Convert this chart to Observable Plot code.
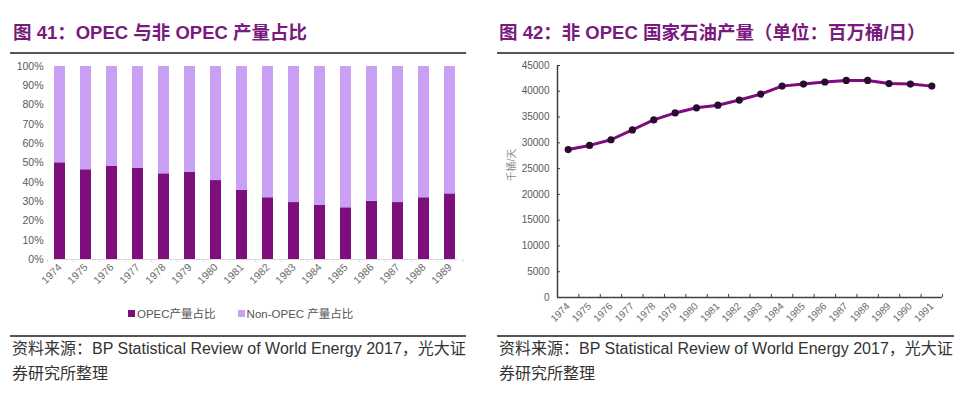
<!DOCTYPE html>
<html>
<head>
<meta charset="utf-8">
<script src="https://cdn.jsdelivr.net/npm/d3@7"></script>
<script src="https://cdn.jsdelivr.net/npm/@observablehq/plot@0.6"></script>
<style>
  html, body { margin: 0; padding: 0; background: #fff; }
  body { width: 978px; height: 398px; position: relative; overflow: hidden;
         font-family: "Liberation Sans", Arial, "Noto Sans CJK SC", sans-serif; }
  .abs { position: absolute; }
  .title { font-size: 18.5px; font-weight: bold; color: #7a1a7e; white-space: nowrap; line-height: 22px; }
  .rule { height: 0; border-top: 2px solid #555; }
  .caption { font-size: 16px; color: #333; line-height: 25px; white-space: nowrap; }
  .legend { font-size: 11.5px; color: #555; white-space: nowrap; }
  .sw { display: inline-block; width: 7px; height: 7px; margin-right: 2px; vertical-align: 1px; }
</style>
</head>
<body>
<script>
// ---------- Data ----------
const years41 = [1974,1975,1976,1977,1978,1979,1980,1981,1982,1983,1984,1985,1986,1987,1988,1989];
const opecShare = [0.501,0.465,0.484,0.473,0.444,0.451,0.409,0.359,0.320,0.295,0.280,0.268,0.301,0.295,0.320,0.340];
const seriesNames = ["OPEC产量占比", "Non-OPEC 产量占比"];
const pctTicks = [0,0.1,0.2,0.3,0.4,0.5,0.6,0.7,0.8,0.9,1.0];

const years42 = [1974,1975,1976,1977,1978,1979,1980,1981,1982,1983,1984,1985,1986,1987,1988,1989,1990,1991];
const nonOpecOutput = [28700,29500,30600,32500,34450,35800,36800,37300,38300,39450,41000,41400,41800,42100,42100,41500,41400,41000];
const outputTicks = [0,5000,10000,15000,20000,25000,30000,35000,40000,45000];

const title41 = "图 41：OPEC 与非 OPEC 产量占比";
const title42 = "图 42：非 OPEC 国家石油产量（单位：百万桶/日）";
const sourceLine1 = "资料来源：BP Statistical Review of World Energy 2017，光大证";
const sourceLine2 = "券研究所整理";
const yLabel42 = "千桶/天";

const cOpec = "#7d0f7d", cNon = "#c9a0f3";
const fontLatin = "'Liberation Sans', Arial, 'Noto Sans CJK SC', sans-serif";

// ---------- HTML helpers ----------
function add(html, cls, style) {
  const d = document.createElement("div");
  d.className = "abs " + cls;
  Object.assign(d.style, style);
  d.innerHTML = html;
  document.body.appendChild(d);
  return d;
}

// titles and rules
add(title41, "title", {left: "13px", top: "22px"});
add(title42, "title", {left: "499px", top: "22px"});
add("", "rule", {left: "10px", top: "52px", width: "456px"});
add("", "rule", {left: "497px", top: "52px", width: "457px"});

// ---------- Chart 41 ----------
const rows41 = [];
years41.forEach((y, i) => {
  rows41.push({year: String(y), series: seriesNames[0], value: opecShare[i]});
  rows41.push({year: String(y), series: seriesNames[1], value: 1 - opecShare[i]});
});
const yearStr41 = years41.map(String);
const bw41 = 404 / 16;

const chart41 = Plot.plot({
  width: 489, height: 245,
  marginLeft: 53, marginRight: 32, marginTop: 11, marginBottom: 41,
  style: {fontFamily: fontLatin, fontSize: "10px", color: "#595959", background: "transparent"},
  x: {domain: yearStr41, paddingInner: 0.56, paddingOuter: 0, align: 0.5, axis: null, label: null},
  y: {domain: [0, 1], axis: null, label: null},
  color: {domain: seriesNames, range: [cOpec, cNon]},
  marks: [
    Plot.barY(rows41, {x: "year", y: "value", fill: "series", order: seriesNames}),
    Plot.ruleY([0], {stroke: "#d9d9d9", strokeWidth: 1}),
    Plot.ruleX(yearStr41, {x: d => d, y1: 0, y2: -0.016, stroke: "#d9d9d9", dx: -bw41 / 2}),
    Plot.ruleX([yearStr41[yearStr41.length - 1]], {x: d => d, y1: 0, y2: -0.016, stroke: "#d9d9d9", dx: bw41 / 2}),
    Plot.axisY(pctTicks, {label: null, tickSize: 0, tickPadding: 10, tickFormat: d => Math.round(d * 100) + "%", fontSize: 10.5, fill: "#595959"}),
    Plot.axisX(yearStr41, {label: null, tickSize: 0, tickRotate: -45, tickPadding: 6, fontSize: 10.5, fill: "#6b6b6b"})
  ]
});
const w41 = add("", "", {left: "0px", top: "55px"});
w41.appendChild(chart41);

add(`<span class="sw" style="background:${cOpec}"></span>${seriesNames[0]}<span style="display:inline-block;width:22px"></span><span class="sw" style="background:${cNon}"></span>${seriesNames[1]}`,
    "legend", {left: "128px", top: "305px"});

// ---------- Chart 42 ----------
const rows42 = years42.map((y, i) => ({year: y, value: nonOpecOutput[i]}));
const bounds42 = years42.map(y => y - 0.5).concat([years42[years42.length - 1] + 0.5]);

const chart42 = Plot.plot({
  width: 489, height: 275,
  marginLeft: 68, marginRight: 36, marginTop: 10, marginBottom: 33,
  style: {fontFamily: fontLatin, fontSize: "10px", color: "#595959", background: "transparent"},
  x: {domain: [years42[0] - 0.5, years42[years42.length - 1] + 0.5], axis: null, label: null},
  y: {domain: [0, 45000], axis: null, label: null},
  marks: [
    Plot.ruleX([years42[0] - 0.5], {stroke: "#404040", strokeWidth: 1.5}),
    Plot.ruleY([0], {stroke: "#404040", strokeWidth: 1.5}),
    Plot.ruleX(bounds42, {x: d => d, y1: 0, y2: 600, stroke: "#404040", strokeWidth: 1}),
    Plot.ruleY(outputTicks, {y: d => d, x1: years42[0] - 0.5, x2: years42[0] - 0.36, stroke: "#404040", strokeWidth: 1}),
    Plot.axisY(outputTicks, {label: null, tickSize: 0, tickPadding: 8, tickFormat: d => String(d), fontSize: 10, fill: "#595959"}),
    Plot.axisX(years42, {label: null, tickSize: 0, tickRotate: -45, tickPadding: 7, tickFormat: d => String(d), fontSize: 10, fill: "#6b6b6b"}),
    Plot.text([yLabel42], {frameAnchor: "left", text: d => d, rotate: -90, dx: -46, fontSize: 10, fill: "#8c8c8c"}),
    Plot.line(rows42, {x: "year", y: "value", stroke: "#800a80", strokeWidth: 3}),
    Plot.dot(rows42, {x: "year", y: "value", r: 3.6, fill: "#2a0a2e", stroke: "none"})
  ]
});
const w42 = add("", "", {left: "489px", top: "55px"});
w42.appendChild(chart42);

// ---------- captions ----------
add("", "rule", {left: "10px", top: "335px", width: "456px"});
add("", "rule", {left: "497px", top: "335px", width: "457px"});
add(sourceLine1 + "<br>" + sourceLine2, "caption", {left: "12px", top: "336px"});
add(sourceLine1 + "<br>" + sourceLine2, "caption", {left: "499px", top: "336px"});
</script>
</body>
</html>
